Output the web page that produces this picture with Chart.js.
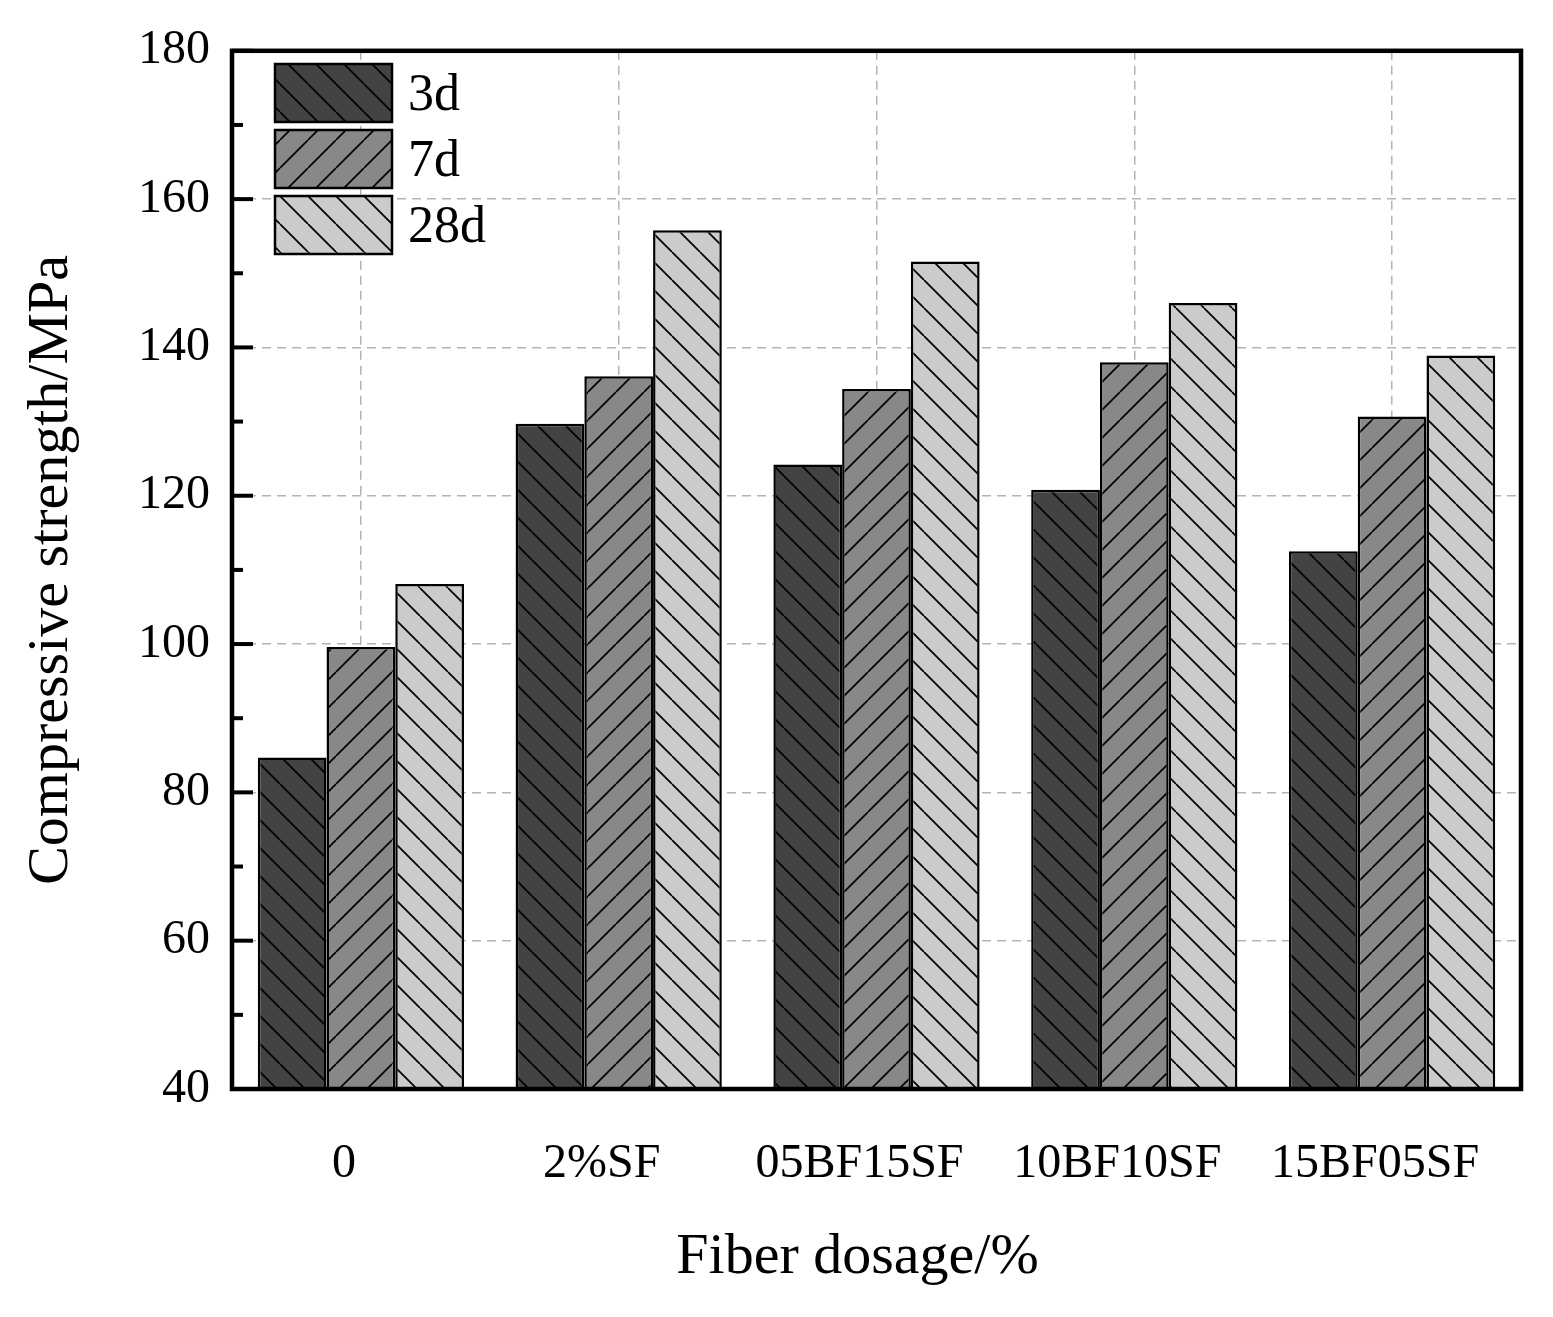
<!DOCTYPE html>
<html>
<head>
<meta charset="utf-8">
<script src="https://cdn.jsdelivr.net/npm/chart.js@4/dist/chart.umd.min.js"></script>
<style>
  html, body { margin:0; padding:0; background:#fff; }
  #wrap { width:1553px; height:1317px; }
</style>
</head>
<body>
<div id="wrap"><canvas id="c" width="1553" height="1317"></canvas></div>
<script>
// data
const categories = ['0', '2%SF', '05BF15SF', '10BF10SF', '15BF05SF'];
const seriesNames = ['3d', '7d', '28d'];
const strength3d  = [84.7, 129.7, 124.2, 120.8, 112.5];
const strength7d  = [99.6, 136.1, 134.4, 138.0, 130.7];
const strength28d = [108.1, 155.8, 151.6, 146.0, 138.9];
const yMin = 40, yMax = 180, yStep = 20, yMinorStep = 10;
const xTitle = 'Fiber dosage/%';

const FONT = '"Liberation Serif", "Times New Roman", serif';

// hatch fill: base colour + thin black diagonal lines
function hatch(fill, dir){
  const s = 28, cv = document.createElement('canvas');
  cv.width = s; cv.height = s;
  const g = cv.getContext('2d');
  g.fillStyle = fill; g.fillRect(0, 0, s, s);
  g.strokeStyle = '#000'; g.lineWidth = 1.7;
  g.beginPath();
  for (const o of [-s, 0, s]){
    if (dir === '\\'){ g.moveTo(o, 0); g.lineTo(o + s, s); }
    else { g.moveTo(o, s); g.lineTo(o + s, 0); }
  }
  g.stroke();
  return g.createPattern(cv, 'repeat');
}

const fills = [hatch('#434343', '\\'), hatch('#888888', '/'), hatch('#cbcbcb', '\\')];
const values = [strength3d, strength7d, strength28d];

// frame, inward ticks on the left axis, legend box, x title
const decor = {
  id: 'decor',
  afterDraw(ch){
    const ctx = ch.ctx, a = ch.chartArea, y = ch.scales.y;
    ctx.save();
    ctx.strokeStyle = '#000';
    ctx.lineWidth = 4.5;
    ctx.strokeRect(a.left, a.top, a.right - a.left, a.bottom - a.top);
    ctx.lineWidth = 4;
    for (let v = yMin; v <= yMax; v += yMinorStep){
      const py = y.getPixelForValue(v);
      const len = (v - yMin) % yStep === 0 ? 21 : 11;
      ctx.beginPath(); ctx.moveTo(a.left, py); ctx.lineTo(a.left + len, py); ctx.stroke();
    }
    // legend
    ctx.font = '52px ' + FONT;
    ctx.textBaseline = 'middle';
    ctx.textAlign = 'left';
    ch.data.datasets.forEach((ds, i) => {
      const bx = 275, by = 64 + i * 66, bw = 117, bh = 58;
      ctx.fillStyle = ds.backgroundColor;
      ctx.fillRect(bx, by, bw, bh);
      ctx.lineWidth = 2.5; ctx.strokeStyle = '#000';
      ctx.strokeRect(bx, by, bw, bh);
      ctx.fillStyle = '#000';
      ctx.fillText(ds.label, 408, by + bh / 2 + 3);
    });
    // x axis title (sits a bit left of the plot centre in the original)
    ctx.font = '58px ' + FONT;
    ctx.textAlign = 'center';
    ctx.fillText(xTitle, (a.left + a.right) / 2 - 19, 1258);
    ctx.restore();
  }
};

new Chart(document.getElementById('c'), {
  type: 'bar',
  data: {
    labels: categories,
    datasets: seriesNames.map((n, i) => ({
      label: n,
      data: values[i],
      backgroundColor: fills[i],
      borderColor: '#000',
      borderWidth: 2.5,
      borderSkipped: false,
      categoryPercentage: 0.8,
      barPercentage: 1.0
    }))
  },
  options: {
    responsive: false,
    animation: false,
    devicePixelRatio: 1,
    layout: { padding: { top: 47, right: 32, left: 0, bottom: 0 } },
    plugins: { legend: { display: false }, tooltip: { enabled: false } },
    scales: {
      x: {
        afterFit(s){ s.height = 228; },
        grid: { offset: false, color: '#b4b4b4', lineWidth: 1.5, drawTicks: false },
        border: { display: false, dash: [9, 6] },
        ticks: { color: '#000', font: { family: FONT, size: 48 }, padding: 47, labelOffset: -17 },
        title: { display: false }
      },
      y: {
        min: yMin, max: yMax,
        afterFit(s){ s.width = 232; },
        grid: { color: '#b4b4b4', lineWidth: 1.5, drawTicks: false },
        border: { display: false, dash: [9, 6] },
        ticks: { stepSize: yStep, color: '#000', font: { family: FONT, size: 48 }, padding: 22 },
        title: { display: true, text: 'Compressive strength/MPa', color: '#000',
                 font: { family: FONT, size: 58 }, padding: { top: 17, bottom: 0 } }
      }
    }
  },
  plugins: [decor]
});
</script>
</body>
</html>
